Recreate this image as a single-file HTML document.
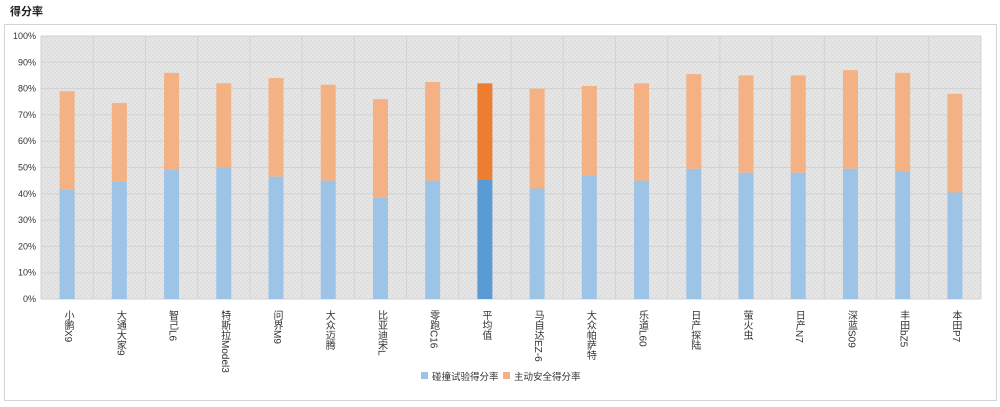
<!DOCTYPE html>
<html><head><meta charset="utf-8"><style>
body{margin:0;background:#fff;width:1000px;height:407px;overflow:hidden;font-family:"Liberation Sans","Noto Sans CJK SC",sans-serif;}
.t{position:absolute;left:10px;top:3px;font-size:11px;font-weight:bold;color:#222;}
.frame{position:absolute;left:4px;top:24px;width:991px;height:375px;border:1px solid #d4d4d4;}
.lab{position:absolute;top:310px;writing-mode:vertical-rl;font-size:10px;color:#333;line-height:12px;letter-spacing:0px;}
</style></head><body>
<div class="t">得分率</div>
<div class="frame"></div>
<svg width="1000" height="407" style="position:absolute;left:0;top:0">
<defs><pattern id="h" width="4" height="4" patternUnits="userSpaceOnUse"><rect width="4" height="4" fill="#e6e6e6"/><path d="M0 4L4 0" stroke="#dcdcdc" stroke-width="1"/></pattern></defs>
<rect x="41" y="36" width="940" height="263" fill="url(#h)"/>
<g id="g" stroke="#d2d2d2" stroke-width="1"></g>
<g id="b"></g>
<g font-size="9" fill="#333" text-anchor="end" id="y"></g>
<rect x="421" y="372" width="7" height="7" fill="#9dc3e6"/>
<text x="432" y="380" font-size="9.5" fill="#333">碰撞试验得分率</text>
<rect x="503" y="372" width="7" height="7" fill="#f4b183"/>
<text x="514" y="380" font-size="9.5" fill="#333">主动安全得分率</text>
</svg>
<div id="labs"></div>
<script>
const N=["小鹏X9","大通大家9","智己L6","特斯拉Model3","问界M9","大众迈腾","比亚迪宋L","零跑C16","平均值","马自达EZ-6","大众帕萨特","乐道L60","日产探陆","萤火虫","日产N7","深蓝S09","丰田bZ5","本田P7"];
const B=[41.5,44.5,49,50,46.5,45,38.5,45,45.5,42,47,45,49.5,48,48,49.5,48.5,40.5];
const T=[79,74.5,86,82,84,81.5,76,82.5,82,80,81,82,85.5,85,85,87,86,78];
const ns="http://www.w3.org/2000/svg";
const g=document.getElementById('g'),b=document.getElementById('b'),y=document.getElementById('y');
const L=41,W=940/18,Y0=299,S=2.63;
function el(p,t,a){const e=document.createElementNS(ns,t);for(const k in a)e.setAttribute(k,a[k]);p.appendChild(e);return e;}
for(let i=0;i<=10;i++){const yy=Y0-i*26.3;el(g,'line',{x1:L,x2:981,y1:yy,y2:yy});const t=el(y,'text',{x:36,y:yy+3});t.textContent=(i*10)+'%';}
for(let i=0;i<=18;i++){const xx=L+i*W;el(g,'line',{x1:xx,x2:xx,y1:36,y2:299});}
let h='';
N.forEach((n,i)=>{const cx=L+(i+.5)*W;const avg=i==8;
el(b,'rect',{x:cx-7.5,y:Y0-T[i]*S,width:15,height:(T[i]-B[i])*S,fill:avg?'#ed7d31':'#f4b183'});
el(b,'rect',{x:cx-7.5,y:Y0-B[i]*S,width:15,height:B[i]*S,fill:avg?'#5b9bd5':'#9dc3e6'});
h+=`<div class="lab" style="left:${cx-6}px">${n}</div>`;});
document.getElementById('labs').innerHTML=h;
</script>
</body></html>
